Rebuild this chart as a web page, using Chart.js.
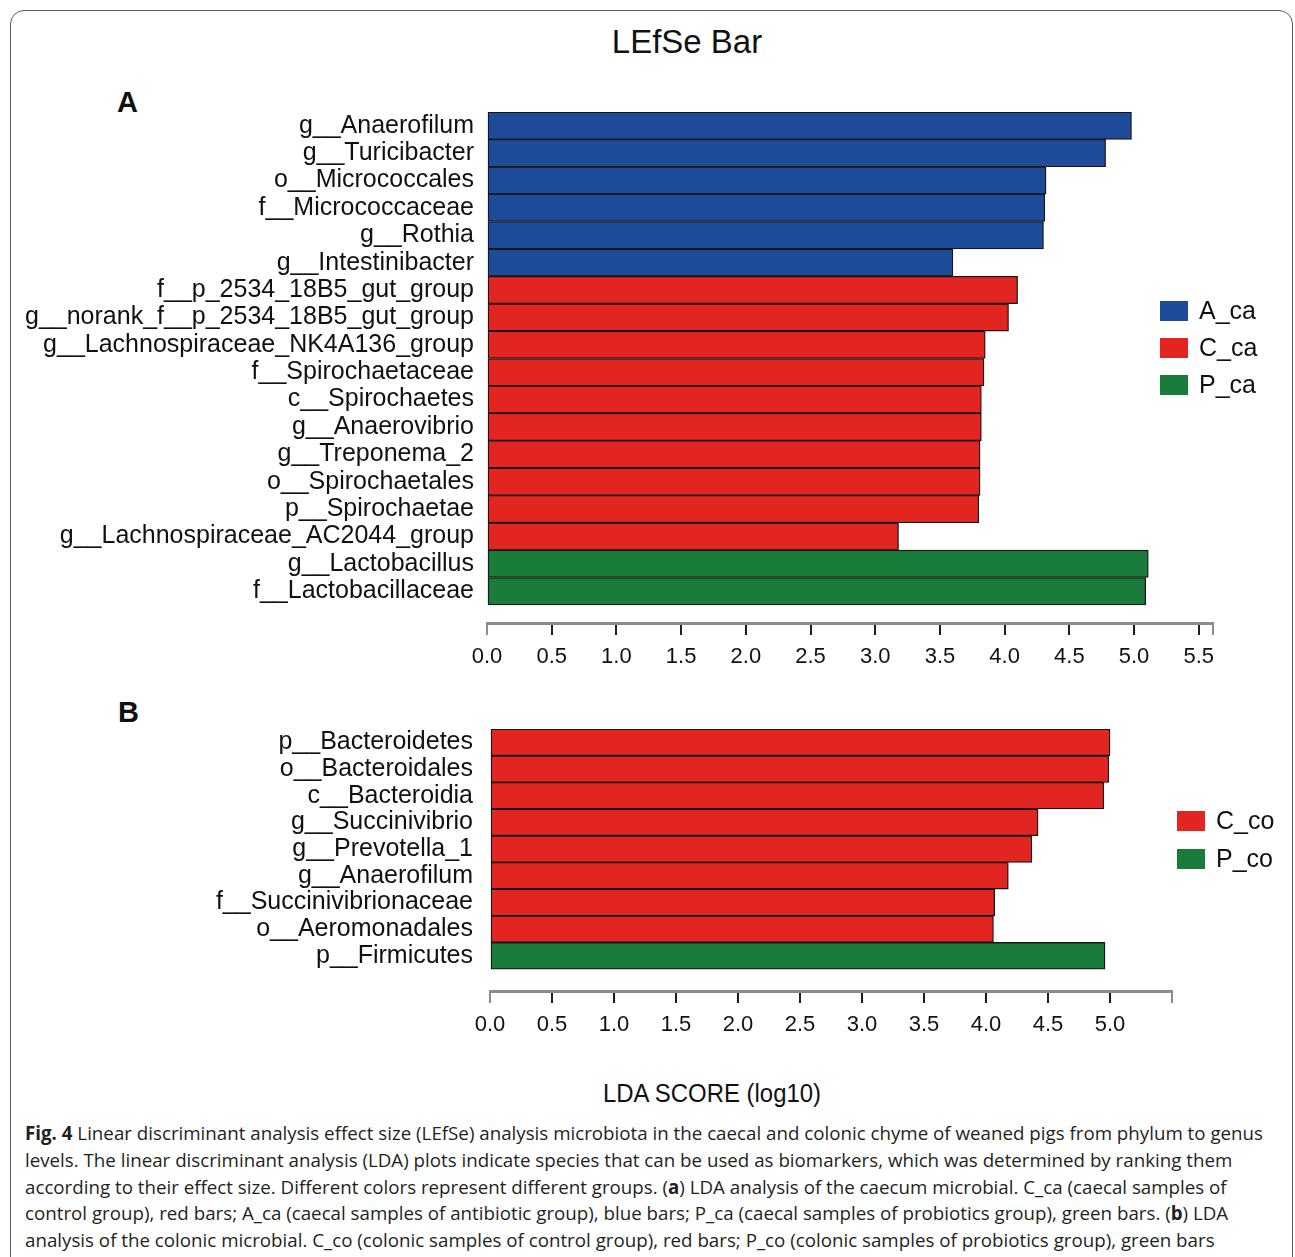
<!DOCTYPE html>
<html>
<head>
<meta charset="utf-8">
<title>LEfSe Bar</title>
<script src="https://cdn.jsdelivr.net/npm/chart.js@4.4.0/dist/chart.umd.min.js"></script>
<style>
  body { margin: 0; background: #fff; width: 1295px; height: 1257px; overflow: hidden; position: relative; font-family: "Liberation Sans", Arial, sans-serif; color: #111; }
  .abs { position: absolute; }
  .panel { font-weight: bold; font-size: 29px; line-height: 32px; }
  .leg { font-size: 25px; line-height: 30px; white-space: nowrap; }
  .leg i { display: inline-block; width: 28px; height: 20px; vertical-align: -2px; margin-right: 11px; }
  canvas { position: absolute; left: 0; }
</style>
</head>
<body>
<script>
// panel A: caecum
const featuresA = ['g__Anaerofilum', 'g__Turicibacter', 'o__Micrococcales', 'f__Micrococcaceae', 'g__Rothia',
  'g__Intestinibacter', 'f__p_2534_18B5_gut_group', 'g__norank_f__p_2534_18B5_gut_group',
  'g__Lachnospiraceae_NK4A136_group', 'f__Spirochaetaceae', 'c__Spirochaetes', 'g__Anaerovibrio',
  'g__Treponema_2', 'o__Spirochaetales', 'p__Spirochaetae', 'g__Lachnospiraceae_AC2044_group',
  'g__Lactobacillus', 'f__Lactobacillaceae'];
const ldaA = [4.98, 4.78, 4.32, 4.31, 4.30, 3.60, 4.10, 4.03, 3.85, 3.84, 3.82, 3.82, 3.81, 3.81, 3.80, 3.18, 5.11, 5.09];
const groupA = ['A_ca', 'A_ca', 'A_ca', 'A_ca', 'A_ca', 'A_ca', 'C_ca', 'C_ca', 'C_ca', 'C_ca', 'C_ca', 'C_ca',
  'C_ca', 'C_ca', 'C_ca', 'C_ca', 'P_ca', 'P_ca'];
const legendA = ['A_ca', 'C_ca', 'P_ca'];
const tickLabelsA = ['0.0', '0.5', '1.0', '1.5', '2.0', '2.5', '3.0', '3.5', '4.0', '4.5', '5.0', '5.5'];

// panel B: colon
const featuresB = ['p__Bacteroidetes', 'o__Bacteroidales', 'c__Bacteroidia', 'g__Succinivibrio', 'g__Prevotella_1',
  'g__Anaerofilum', 'f__Succinivibrionaceae', 'o__Aeromonadales', 'p__Firmicutes'];
const ldaB = [5.00, 4.99, 4.95, 4.42, 4.37, 4.18, 4.07, 4.06, 4.96];
const groupB = ['C_co', 'C_co', 'C_co', 'C_co', 'C_co', 'C_co', 'C_co', 'C_co', 'P_co'];
const legendB = ['C_co', 'P_co'];
const tickLabelsB = ['0.0', '0.5', '1.0', '1.5', '2.0', '2.5', '3.0', '3.5', '4.0', '4.5', '5.0'];

const palette = { A_ca: '#1f4b9b', C_ca: '#e32521', P_ca: '#1a7c3b', C_co: '#e32521', P_co: '#1a7c3b' };

Chart.defaults.font.family = '"Liberation Sans", Arial, sans-serif';
Chart.defaults.color = '#111';

function addDiv(cls, css, html) {
  const d = document.createElement('div');
  d.className = 'abs ' + cls;
  if (css) d.style.cssText = css;
  d.innerHTML = html;
  document.body.appendChild(d);
  return d;
}

function lefseChart(top, height, padTop, yWidth, padRight, labelPad, gap, xMax, features, values, groups, tickLabels) {
  const cv = document.createElement('canvas');
  cv.width = 1295;
  cv.height = height;
  cv.style.top = top + 'px';
  document.body.appendChild(cv);
  const tickVals = tickLabels.map(Number);
  return new Chart(cv, {
    type: 'bar',
    data: {
      datasets: [{
        data: values.map((v, i) => ({ x: v, y: i })),
        backgroundColor: groups.map(g => palette[g]),
        borderColor: '#161616',
        borderWidth: 1.3,
        borderSkipped: false,
        barPercentage: 1,
        categoryPercentage: 1
      }]
    },
    options: {
      indexAxis: 'y',
      responsive: false,
      animation: false,
      layout: { padding: { top: padTop, right: padRight, left: 0, bottom: 0 } },
      plugins: { legend: { display: false }, tooltip: { enabled: false } },
      scales: {
        y: {
          type: 'linear',
          reverse: true,
          offset: false,
          min: -0.5,
          max: features.length - 0.5 + gap,   // leaves the gap above the x axis
          afterBuildTicks: s => { s.ticks = features.map((f, i) => ({ value: i })); },
          afterFit: s => { s.width = yWidth; s.paddingTop = 0; s.paddingBottom = 0; },
          grid: { display: false, drawTicks: false, offset: false },
          border: { display: false },
          ticks: {
            autoSkip: false,
            padding: labelPad,
            font: { size: 25 },
            color: '#111',
            callback: (v, i) => features[i]
          }
        },
        x: {
          type: 'linear',
          min: 0,
          max: xMax,
          afterBuildTicks: s => { s.ticks = tickVals.concat(xMax > tickVals[tickVals.length - 1] ? [xMax] : []).map(v => ({ value: v })); },
          afterFit: s => { s.height = 61; s.paddingLeft = 0; s.paddingRight = 0; },
          grid: {
            display: true,
            drawOnChartArea: false,
            drawTicks: true,
            tickLength: 12,
            lineWidth: 2,
            color: c => (c.index === 0 || c.index >= tickLabels.length) ? '#8c8c8c' : '#1e1e1e'
          },
          border: { display: true, color: '#8c8c8c', width: 3 },
          ticks: {
            autoSkip: false,
            maxRotation: 0,
            padding: 9,
            font: { size: 22 },
            color: '#111',
            callback: (v, i) => tickLabels[i] || ''
          }
        }
      }
    }
  });
}

addDiv('', 'left:10px;top:10px;width:1283px;height:1320px;border:1.5px solid #5c5c5c;border-radius:14px;box-sizing:border-box', '');
addDiv('', 'left:487px;width:400px;top:22px;font-size:33px;line-height:40px;text-align:center', 'LEfSe Bar');
addDiv('panel', 'left:117px;top:86px', 'A');
addDiv('panel', 'left:118px;top:696px', 'B');

lefseChart(100, 584, 12, 487, 82, 13, 0.66, 5.61, featuresA, ldaA, groupA, tickLabelsA);
lefseChart(715, 337, 14, 490, 123, 17, 0.82, 5.5, featuresB, ldaB, groupB, tickLabelsB);

legendA.forEach((g, i) => addDiv('leg', 'left:1160px;top:' + (295 + i * 37) + 'px', '<i style="background:' + palette[g] + '"></i>' + g));
legendB.forEach((g, i) => addDiv('leg', 'left:1177px;top:' + (805 + i * 38) + 'px', '<i style="background:' + palette[g] + '"></i>' + g));

addDiv('', 'left:512px;width:400px;top:1076px;font-size:26px;line-height:34px;text-align:center;transform:scaleX(0.92)', 'LDA SCORE (log10)');

const firstCaptionLine = '<b>Fig. 4</b> Linear discriminant analysis effect size (LEfSe) analysis microbiota in the caecal and colonic chyme of weaned pigs from phylum to genus';
const cap = addDiv('', 'left:25px;top:1120px;font-family:"Open Sans",sans-serif;font-size:19px;line-height:26.8px;color:#231f20;white-space:nowrap;transform-origin:0 0',
  firstCaptionLine + '<br>' +
  'levels. The linear discriminant analysis (LDA) plots indicate species that can be used as biomarkers, which was determined by ranking them<br>' +
  'according to their effect size. Different colors represent different groups. (<b>a</b>) LDA analysis of the caecum microbial. C_ca (caecal samples of<br>' +
  'control group), red bars; A_ca (caecal samples of antibiotic group), blue bars; P_ca (caecal samples of probiotics group), green bars. (<b>b</b>) LDA<br>' +
  'analysis of the colonic microbial. C_co (colonic samples of control group), red bars; P_co (colonic samples of probiotics group), green bars');
// squeeze the caption so its first line spans the same width as in the figure
const probe = document.createElement('span');
probe.style.cssText = 'font:19px "Open Sans";white-space:nowrap;visibility:hidden;position:absolute';
probe.innerHTML = firstCaptionLine;
document.body.appendChild(probe);
cap.style.transform = 'scaleX(' + (1238 / probe.getBoundingClientRect().width) + ')';
</script>
</body>
</html>
